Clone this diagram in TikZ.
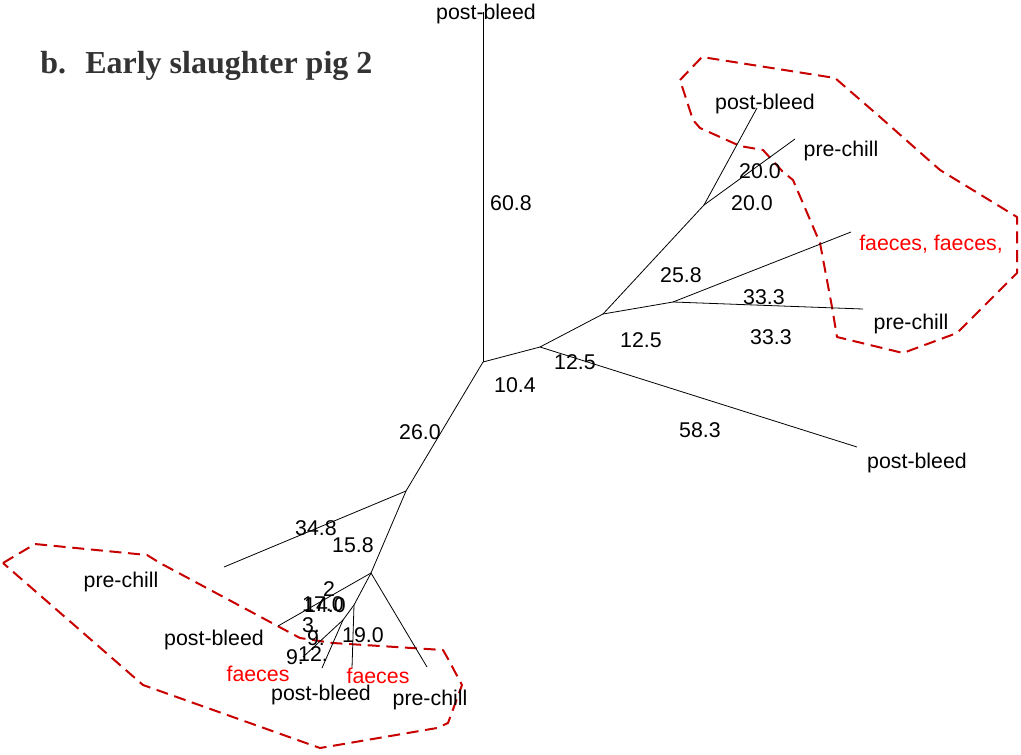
\documentclass[tikz,border=0pt]{standalone}
\usepackage{fontspec}
\setmainfont{Liberation Sans}
\newfontfamily\titlefont{Liberation Serif}
\definecolor{hullred}{RGB}{200,0,0}
\definecolor{labred}{RGB}{255,0,0}
\begin{document}
\begin{tikzpicture}[x=0.75pt,y=-0.75pt,
  branch/.style={line width=0.6pt,black},
  lab/.style={inner sep=0pt,font=\fontsize{16}{18}\selectfont},
  redlab/.style={lab,text=labred},
  hull/.style={hullred,line width=1.5pt,dash pattern=on 9pt off 5pt,line join=round}]
\useasboundingbox (0,0) rectangle (1021,754);
% title
\node[anchor=base west,inner sep=0pt,text=black!80,font=\titlefont\bfseries\fontsize{24}{28}\selectfont] (tb) at (40,73) {b.};
\node[anchor=base west,inner sep=0pt,text=black!80,font=\titlefont\bfseries\fontsize{24}{28}\selectfont] (tt) at (85,73) {Early slaughter pig 2};
% hulls
\draw[hull] (680,80) -- (702,57) -- (835,78) -- (880,117) -- (940,170) -- (1017,217) -- (1017,273) -- (957,333) -- (903,353) -- (837,337) -- (832,307) -- (820,243) -- (793,180) -- (783,172) -- (763,150) -- (740,146) -- (700,128) -- (693,120) -- cycle;
\draw[hull] (3,563) -- (35,544) -- (147,555) -- (160,563) -- (300,638) -- (333,643) -- (443,650) -- (447,657) -- (462,685) -- (448,723) -- (437,728) -- (320,748) -- (143,685) -- cycle;
% tree coordinates
\coordinate (R) at (483,362);
\coordinate (T) at (483,12);
\coordinate (A) at (540,347);
\coordinate (B) at (603,314);
\coordinate (C) at (704,205);
\coordinate (Cpb) at (757,108);
\coordinate (Cpc) at (795,139);
\coordinate (D) at (673,302);
\coordinate (Df) at (851,232);
\coordinate (Dpc) at (863,309);
\coordinate (Apb) at (857,447);
\coordinate (E) at (406,491);
\coordinate (Epc) at (224,567);
\coordinate (F) at (371,573);
\coordinate (Fpb) at (278,626);
\coordinate (Fpc) at (427,667);
\coordinate (G) at (354,605);
\coordinate (Gf) at (352,668);
\coordinate (H) at (343,620);
\coordinate (Hpb) at (322,668);
\coordinate (Hf) at (303,657);
% branches
\draw[branch] (R) -- (T);
\draw[branch] (R) -- (A);
\draw[branch] (A) -- (B);
\draw[branch] (B) -- (C);
\draw[branch] (C) -- (Cpb);
\draw[branch] (C) -- (Cpc);
\draw[branch] (B) -- (D);
\draw[branch] (D) -- (Df);
\draw[branch] (D) -- (Dpc);
\draw[branch] (A) -- (Apb);
\draw[branch] (R) -- (E);
\draw[branch] (E) -- (Epc);
\draw[branch] (E) -- (F);
\draw[branch] (F) -- (Fpb);
\draw[branch] (F) -- (Fpc);
\draw[branch] (F) -- (G);
\draw[branch] (G) -- (Gf);
\draw[branch] (G) -- (H);
\draw[branch] (H) -- (Hpb);
\draw[branch] (H) -- (Hf);
% leaf labels
\node[lab] (l1) at (486,14) {post-bleed};
\node[lab] (l2) at (765,104) {post-bleed};
\node[lab] (l3) at (841,151) {pre-chill};
\node[redlab] (l4) at (931,244) {faeces, faeces,};
\node[lab] (l5) at (911,324) {pre-chill};
\node[lab] (l6) at (917,463) {post-bleed};
\node[lab] (l7) at (121,582) {pre-chill};
\node[lab] (l8) at (214,640) {post-bleed};
\node[redlab] (l9) at (258,674) {faeces};
\node[lab] (l10) at (321,695) {post-bleed};
\node[redlab] (l11) at (378,676) {faeces};
\node[lab] (l12) at (430,700) {pre-chill};
% branch length labels
\node[lab] (n1) at (511,203) {60.8};
\node[lab] (n2) at (420,432) {26.0};
\node[lab] (n3) at (515,385) {10.4};
\node[lab] (n4) at (575,362) {12.5};
\node[lab] (n5) at (641,340) {12.5};
\node[lab] (n6) at (681,275) {25.8};
\node[lab] (n7) at (764,297) {33.3};
\node[lab] (n8) at (771,337) {33.3};
\node[lab] (n9) at (760,171) {20.0};
\node[lab] (n10) at (752,203) {20.0};
\node[lab] (n11) at (700,430) {58.3};
\node[lab] (n12) at (316,528) {34.8};
\node[lab] (n13) at (353,545) {15.8};
\node[lab] (n14) at (329,589) {2};
\node[lab] (n15) at (323,604) {17.0};
\node[lab] (n16) at (325,605) {14.0};
\node[lab] (n17) at (311,625) {3.};
\node[lab] (n18) at (316,638) {9.};
\node[lab] (n19) at (295,657) {9.};
\node[lab] (n20) at (313,654) {12.};
\node[lab] (n21) at (363,635) {19.0};
\end{tikzpicture}
\end{document}
